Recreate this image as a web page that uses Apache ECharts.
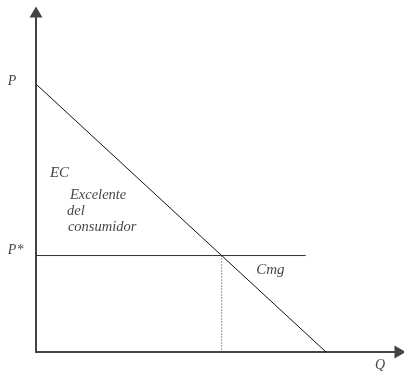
<!DOCTYPE html>
<html>
<head>
<meta charset="utf-8">
<script src="https://cdn.jsdelivr.net/npm/echarts@6/dist/echarts.min.js"></script>
<style>
    html, body { margin: 0; padding: 0; background: #fff; }
    #chart { width: 404px; height: 371px; }
</style>
</head>
<body>
<div id="chart"></div>
<script>
// demand curve: from (0, P) down to (Qmax, 0)
const demandQ = [0, 10];
const demandP = [10, 0];
// marginal cost (horizontal at P*)
const priceStar = 3.6;
const cmgQ = [0, 9.3];
// equilibrium quantity
const quantityStar = 6.4;

// text labels
const labelText = ['P', 'P*', 'Q', 'EC', 'Excelente', 'del', 'consumidor', 'Cmg'];
const labelX = [-0.97, -0.97, 11.69, 0.48, 1.17, 1.07, 1.10, 7.59];
const labelY = [10.11, 3.81, -0.49, 6.68, 5.86, 5.26, 4.66, 3.06];
const labelSize = [14, 14, 14, 15, 14.5, 14.5, 14.5, 15];

const chart = echarts.init(document.getElementById('chart'));

function plainAxis(max) {
    return {
        type: 'value',
        min: 0,
        max: max,
        splitLine: { show: false },
        axisTick: { show: false },
        axisLabel: { show: false },
        axisLine: {
            show: true,
            onZero: false,
            symbol: ['none', 'triangle'],
            symbolSize: [13, 11],
            lineStyle: { color: '#444', width: 2 }
        }
    };
}

const labelData = labelText.map(function (t, i) {
    return {
        value: [labelX[i], labelY[i]],
        label: {
            show: true,
            formatter: t,
            position: 'right',
            distance: 0,
            fontFamily: 'Liberation Serif',
            fontStyle: 'italic',
            fontSize: labelSize[i],
            color: '#111'
        }
    };
});

const options = {
    animation: false,
    grid: { left: 36, right: 4, top: 12, bottom: 19 },
    xAxis: plainAxis(12.55),
    yAxis: plainAxis(12.69),
    series: [
        {
            type: 'line',
            data: [[demandQ[0], demandP[0]], [demandQ[1], demandP[1]]],
            symbol: 'none',
            lineStyle: { color: '#111', width: 1 }
        },
        {
            type: 'line',
            data: [[cmgQ[0], priceStar], [cmgQ[1], priceStar]],
            symbol: 'none',
            lineStyle: { color: '#333', width: 1 }
        },
        {
            type: 'line',
            data: [[quantityStar, priceStar], [quantityStar, 0]],
            symbol: 'none',
            lineStyle: { color: '#333', width: 1, type: [1, 2] }
        },
        {
            type: 'scatter',
            clip: false,
            symbolSize: 0,
            data: labelData
        }
    ]
};
chart.setOption(options);
</script>
</body>
</html>
